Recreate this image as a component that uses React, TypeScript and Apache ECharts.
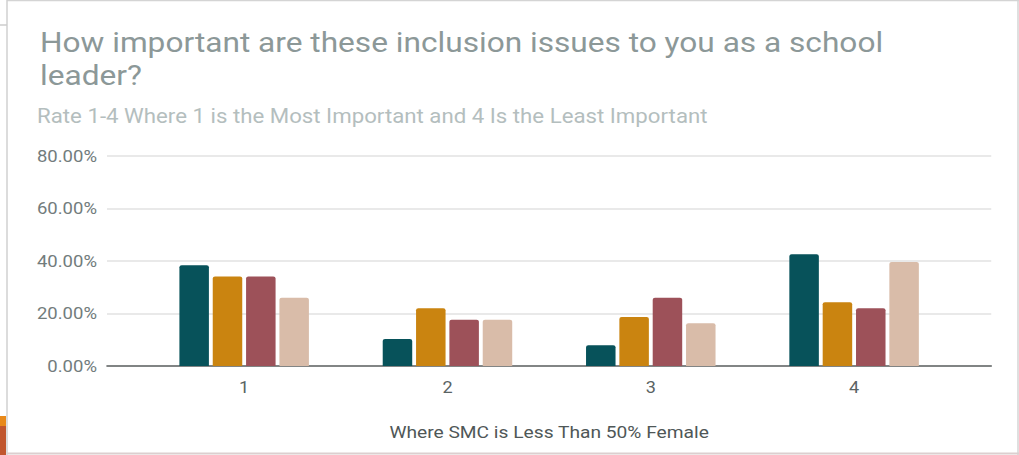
import React, { useEffect, useRef } from "react";
import * as echarts from "echarts";

const categories = ["1", "2", "3", "4"];
const seriesNames = ["Series A", "Series B", "Series C", "Series D"];
const seriesA = [38.4, 10.3, 7.9, 42.6];
const seriesB = [34.1, 22.0, 18.7, 24.3];
const seriesC = [34.1, 17.6, 26.0, 22.0];
const seriesD = [26.0, 17.6, 16.3, 39.6];
const colors = ["#07525a", "#ca8410", "#9d5159", "#d9bca9"];
const yTicks = [0, 20, 40, 60, 80];

const titleText = "How important are these inclusion issues to you as a school\nleader?";
const subtitleText = "Rate 1-4 Where 1 is the Most Important and 4 Is the Least Important";
const xAxisName = "Where SMC is Less Than 50% Female";

// the reference image is horizontally stretched; render narrower and stretch
const STRETCH = 1.13;
const W = 1019 / STRETCH;
const H = 455;
const sx = (x: number) => x / STRETCH;

export default function App() {
  const ref = useRef<HTMLDivElement>(null);
  useEffect(() => {
    if (!ref.current) return;
    const chart = echarts.init(ref.current, undefined, { renderer: "svg" });
    const values = [seriesA, seriesB, seriesC, seriesD];
    const font = "Roboto";
    chart.setOption({
      animation: false,
      backgroundColor: "#ffffff",
      textStyle: { fontFamily: font },
      title: [
        {
          text: titleText,
          left: sx(40),
          top: 25,
          padding: 0,
          textStyle: { fontFamily: font, fontSize: 28, fontWeight: "normal", color: "#8c9898", lineHeight: 33.5 },
        },
        {
          text: subtitleText,
          left: sx(37),
          top: 106,
          padding: 0,
          textStyle: { fontFamily: font, fontSize: 19.7, fontWeight: "normal", color: "#b4bebe" },
        },
      ],
      grid: [
        { left: sx(107), right: sx(28), top: 156, bottom: 89 },
        { left: sx(142.5), right: sx(63.5), top: 156, bottom: 89 },
      ],
      xAxis: [
        {
          gridIndex: 0,
          type: "value",
          min: 0,
          max: 1,
          axisLine: { show: true, onZero: false, lineStyle: { color: "#5f6363", width: 1.5 } },
          axisTick: { show: false },
          axisLabel: { show: false },
          splitLine: { show: false },
        },
        {
          gridIndex: 1,
          type: "category",
          data: categories,
          axisLine: { show: false },
          axisTick: { show: false },
          axisLabel: { color: "#5a6363", fontSize: 16, margin: 13, fontFamily: font },
          name: xAxisName,
          nameLocation: "middle",
          nameGap: 57,
          nameTextStyle: { color: "#4f5757", fontSize: 17, fontFamily: font },
        },
      ],
      yAxis: [
        {
          gridIndex: 0,
          type: "value",
          min: yTicks[0],
          max: yTicks[yTicks.length - 1],
          interval: 20,
          axisLine: { show: false },
          axisTick: { show: false },
          axisLabel: {
            color: "#727c7c",
            fontSize: 16.4,
            margin: sx(10),
            fontFamily: font,
            formatter: (v: number) => v.toFixed(2) + "%",
          },
          splitLine: { show: true, lineStyle: { color: "#e2e2e2", width: 1.5 } },
        },
        {
          gridIndex: 1,
          type: "value",
          min: yTicks[0],
          max: yTicks[yTicks.length - 1],
          interval: 20,
          show: false,
        },
      ],
      series: values.map((d, i) => ({
        name: seriesNames[i],
        type: "bar",
        xAxisIndex: 1,
        yAxisIndex: 1,
        data: d,
        barWidth: sx(29.5),
        barGap: "13%",
        itemStyle: { color: colors[i], borderRadius: [2, 2, 0, 0] },
      })),
      graphic: [
        { type: "line", shape: { x1: sx(7), y1: 0.5, x2: W, y2: 0.5 }, style: { stroke: "#d4d4d4", lineWidth: 1.5 } },
        { type: "line", shape: { x1: sx(7), y1: 0, x2: sx(7), y2: H }, style: { stroke: "#d0d0d0", lineWidth: 1.3 } },
        { type: "line", shape: { x1: 0, y1: 25, x2: sx(7), y2: 25 }, style: { stroke: "#cccccc", lineWidth: 1.5 } },
        { type: "line", shape: { x1: sx(1018), y1: 0, x2: sx(1018), y2: H }, style: { stroke: "#d4d4d4", lineWidth: 1.3 } },
        { type: "line", shape: { x1: sx(7), y1: 453.5, x2: W, y2: 453.5 }, style: { stroke: "#dccfcf", lineWidth: 2 } },
        { type: "rect", shape: { x: 0, y: 416, width: sx(6), height: 10 }, style: { fill: "#e8891a" } },
        { type: "rect", shape: { x: 0, y: 426, width: sx(6), height: 29 }, style: { fill: "#c1562e" } },
      ],
    });
    return () => chart.dispose();
  }, []);
  return (
    <div
      ref={ref}
      style={{
        position: "fixed",
        left: 0,
        top: 0,
        width: W,
        height: H,
        background: "#fff",
        transform: `scaleX(${STRETCH})`,
        transformOrigin: "0 0",
      }}
    />
  );
}
